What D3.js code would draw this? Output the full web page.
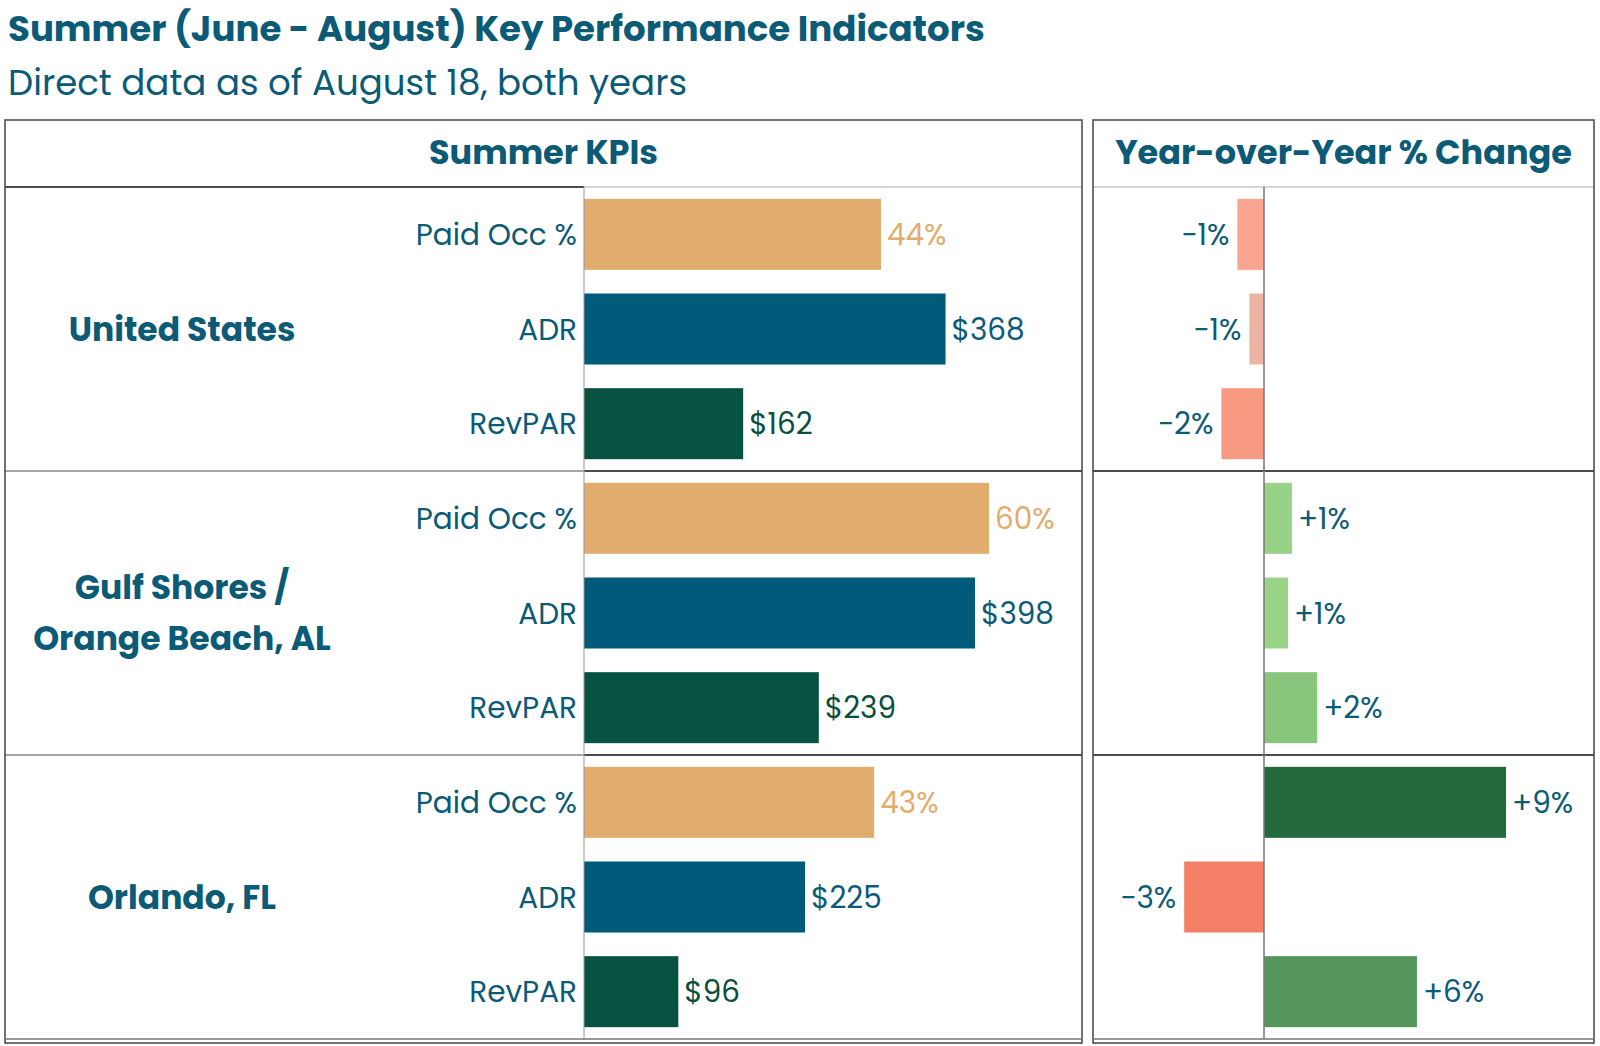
<!DOCTYPE html>
<html>
<head>
<meta charset="utf-8">
<script src="https://cdn.jsdelivr.net/npm/d3@7"></script>
<style>
  body { margin: 0; background: #fff; }
  svg text { font-family: Poppins, Inter, sans-serif; }
</style>
</head>
<body>
<div id="chart"></div>
<script>
// data
const regions = ["United States", "Gulf Shores / Orange Beach, AL", "Orlando, FL"];
const regionLines = [["United States"], ["Gulf Shores /", "Orange Beach, AL"], ["Orlando, FL"]];
const metrics = ["Paid Occ %", "ADR", "RevPAR"];
const paidOcc = [44, 60, 43];
const adr = [368, 398, 225];
const revpar = [162, 239, 96];
const yoyPaidOcc = [-1.0, 1.05, 9.1];
const yoyAdr = [-0.55, 0.9, -3.0];
const yoyRevpar = [-1.6, 2.0, 5.75];

const W = 1600, H = 1046;
const blue = "#0b5a76";
const leftP = { x0: 5, x1: 1082 }, rightP = { x0: 1093, x1: 1594 };
const panelTop = 120, headBottom = 187, panelBottom = 1039;
const axisL = 584, axisR = 1264;

const svg = d3.select("#chart").append("svg")
  .attr("width", W)
  .attr("height", H);

// titles
svg.append("text")
  .attr("x", 8).attr("y", 41)
  .attr("font-size", 35.6).attr("font-weight", 700)
  .attr("fill", blue)
  .text("Summer (June - August) Key Performance Indicators");

svg.append("text")
  .attr("x", 8).attr("y", 95)
  .attr("font-size", 35.6)
  .attr("fill", blue)
  .text("Direct data as of August 18, both years");

// rows
const rows = [];
regions.forEach((r, i) => {
  rows.push({ region: r, metric: metrics[0], value: paidOcc[i], yoy: yoyPaidOcc[i] });
  rows.push({ region: r, metric: metrics[1], value: adr[i], yoy: yoyAdr[i] });
  rows.push({ region: r, metric: metrics[2], value: revpar[i], yoy: yoyRevpar[i] });
});

const yGroup = d3.scaleBand().domain(regions).range([headBottom, panelBottom]);
const yBar = d3.scaleBand().domain(metrics).range([0, yGroup.bandwidth()])
  .paddingInner(0.25).paddingOuter(0.125);

const xPct = d3.scaleLinear().domain([0, 100]).range([axisL, axisL + 675]);
const xUsd = d3.scaleLinear().domain([0, 400]).range([axisL, axisL + 393]);
const xYoy = d3.scaleLinear().domain([0, 10]).range([axisR, axisR + 266]);

const barColor = d3.scaleOrdinal().domain(metrics).range(["#e1ac6d", "#005b7a", "#065140"]);
const labelColor = d3.scaleOrdinal().domain(metrics).range(["#e1ac6d", "#0a5a78", "#0a4f3e"]);
const negColor = d3.scaleLinear().domain([-3, -1, -0.5]).range(["#f47e66", "#f9a48e", "#ecb6a6"]).clamp(true);
const posColor = d3.scaleLinear().domain([1, 9]).range(["#98d386", "#236a3c"]).clamp(true);

const xOf = d => d.metric === "Paid Occ %" ? xPct(d.value) : xUsd(d.value);
const yOf = d => yGroup(d.region) + yBar(d.metric);

// panel headers
svg.append("text")
  .attr("x", (leftP.x0 + leftP.x1) / 2).attr("y", 164)
  .attr("text-anchor", "middle")
  .attr("font-size", 33.5).attr("font-weight", 700)
  .attr("fill", blue)
  .text("Summer KPIs");

svg.append("text")
  .attr("x", (rightP.x0 + rightP.x1) / 2).attr("y", 164)
  .attr("text-anchor", "middle")
  .attr("font-size", 33.5).attr("font-weight", 700)
  .attr("fill", blue)
  .text("Year-over-Year % Change");

// KPI bars
svg.append("g").selectAll("rect")
  .data(rows)
  .join("rect")
  .attr("x", axisL)
  .attr("y", yOf)
  .attr("width", d => xOf(d) - axisL)
  .attr("height", yBar.bandwidth())
  .attr("fill", d => barColor(d.metric));

svg.append("g").selectAll("text")
  .data(rows)
  .join("text")
  .attr("x", d => xOf(d) + 6)
  .attr("y", d => yOf(d) + yBar.bandwidth() / 2)
  .attr("dy", "0.36em")
  .attr("font-size", 29.5)
  .attr("fill", d => labelColor(d.metric))
  .text(d => d.metric === "Paid Occ %" ? d.value + "%" : "$" + d.value);

// metric labels
svg.append("g").selectAll("text")
  .data(rows)
  .join("text")
  .attr("x", axisL - 7)
  .attr("y", d => yOf(d) + yBar.bandwidth() / 2)
  .attr("dy", "0.36em")
  .attr("text-anchor", "end")
  .attr("font-size", 29.5)
  .attr("fill", blue)
  .text(d => d.metric);

// region labels
regions.forEach((r, i) => {
  const lines = regionLines[i];
  const cy = yGroup(r) + yGroup.bandwidth() / 2;
  lines.forEach((t, j) => {
    svg.append("text")
      .attr("x", 182)
      .attr("y", cy + (j - (lines.length - 1) / 2) * 51)
      .attr("dy", "0.36em")
      .attr("text-anchor", "middle")
      .attr("font-size", 33).attr("font-weight", 700)
      .attr("fill", blue)
      .text(t);
  });
});

// YoY bars
svg.append("g").selectAll("rect")
  .data(rows)
  .join("rect")
  .attr("x", d => Math.min(xYoy(d.yoy), axisR))
  .attr("y", yOf)
  .attr("width", d => Math.abs(xYoy(d.yoy) - axisR))
  .attr("height", yBar.bandwidth())
  .attr("fill", d => d.yoy < 0 ? negColor(d.yoy) : posColor(d.yoy));

svg.append("g").selectAll("text")
  .data(rows)
  .join("text")
  .attr("x", d => d.yoy < 0 ? xYoy(d.yoy) - 8 : xYoy(d.yoy) + 6)
  .attr("y", d => yOf(d) + yBar.bandwidth() / 2)
  .attr("dy", "0.36em")
  .attr("text-anchor", d => d.yoy < 0 ? "end" : "start")
  .attr("font-size", 29.5)
  .attr("fill", blue)
  .text(d => (d.yoy < 0 ? "\u2212" : "+") + Math.abs(Math.round(d.yoy)) + "%");

// grid lines
const grid = svg.append("g").attr("fill", "none");
// header dividers
grid.append("line").attr("x1", leftP.x0).attr("x2", axisL).attr("y1", headBottom).attr("y2", headBottom)
  .attr("stroke", "#111").attr("stroke-width", 1.5);
grid.append("line").attr("x1", axisL).attr("x2", leftP.x1).attr("y1", headBottom).attr("y2", headBottom)
  .attr("stroke", "#aaa").attr("stroke-width", 1.2);
grid.append("line").attr("x1", rightP.x0).attr("x2", rightP.x1).attr("y1", headBottom).attr("y2", headBottom)
  .attr("stroke", "#aaa").attr("stroke-width", 1.2);
// row dividers
regions.slice(1).forEach(r => {
  const y = yGroup(r);
  grid.append("line").attr("x1", leftP.x0).attr("x2", axisL).attr("y1", y).attr("y2", y)
    .attr("stroke", "#888").attr("stroke-width", 1.5);
  grid.append("line").attr("x1", axisL).attr("x2", leftP.x1).attr("y1", y).attr("y2", y)
    .attr("stroke", "#111").attr("stroke-width", 1.5);
  grid.append("line").attr("x1", rightP.x0).attr("x2", rightP.x1).attr("y1", y).attr("y2", y)
    .attr("stroke", "#111").attr("stroke-width", 1.5);
});
// axis lines
grid.append("line").attr("x1", axisL).attr("x2", axisL).attr("y1", headBottom).attr("y2", panelBottom)
  .attr("stroke", "#999").attr("stroke-width", 1);
grid.append("line").attr("x1", axisR).attr("x2", axisR).attr("y1", headBottom).attr("y2", panelBottom)
  .attr("stroke", "#777").attr("stroke-width", 1.5);
// panel frames
[leftP, rightP].forEach(p => {
  grid.append("rect")
    .attr("x", p.x0).attr("y", panelTop)
    .attr("width", p.x1 - p.x0).attr("height", panelBottom - panelTop + 4)
    .attr("stroke", "#444").attr("stroke-width", 1.5);
  grid.append("line").attr("x1", p.x0).attr("x2", p.x1).attr("y1", panelBottom).attr("y2", panelBottom)
    .attr("stroke", "#777").attr("stroke-width", 1.5);
});
</script>
</body>
</html>
